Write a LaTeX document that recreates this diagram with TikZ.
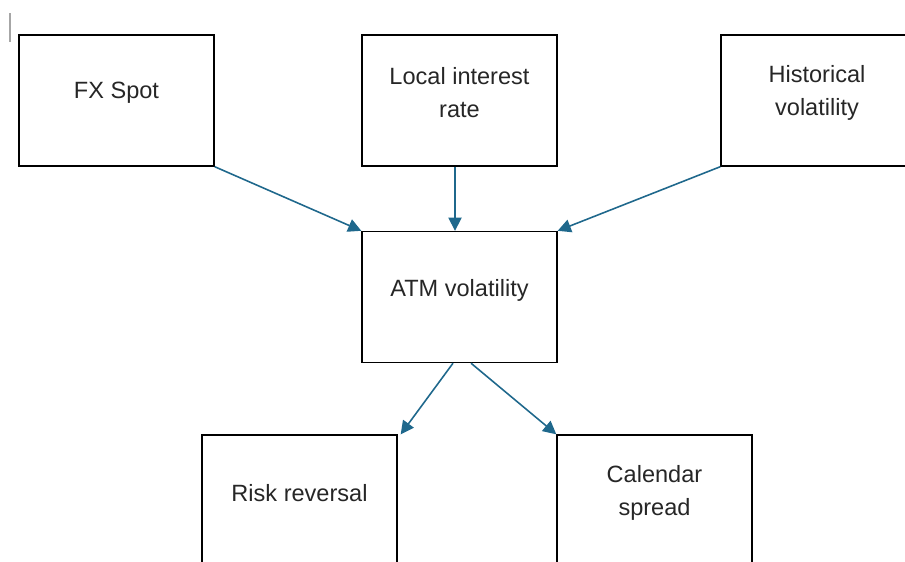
\documentclass[tikz,border=0pt]{standalone}
\usepackage{fontspec}
\setmainfont{Liberation Sans}
\usetikzlibrary{arrows.meta,calc}
\definecolor{arrowblue}{RGB}{31,104,140}
\definecolor{textgray}{RGB}{38,38,38}
\tikzstyle{box}=[draw=black,line width=0.8pt,minimum width=3.9cm,minimum height=2.62cm,inner sep=0pt]
\tikzstyle{boxtext}=[text=textgray,align=center,font=\fontsize{13.4}{18.7}\selectfont,inner sep=0pt]
\tikzstyle{link}=[-{Triangle[length=7.5pt,width=7.5pt]},arrowblue,line width=0.9pt]

\begin{document}
\begin{tikzpicture}[x=0.02cm,y=-0.02cm]
			\useasboundingbox (0,0) rectangle (905,561);
			\clip (0,0) rectangle (905,561);
			%Adding the cursor mark
			\draw[black!35, line width=0.6pt] (10,13) -- (10,42);
			%Adding the boxes
			\foreach \pos/\name in 	{{(116.5,100.5)/fx},	{(459.5,100.5)/rate},	{(818.5,100.5)/hist},
									 {(459.5,297)/atm},
									 {(299.5,500.5)/rr},	{(654.5,500.5)/cal}}
			\node[box] (\name) at \pos {};
			%Adding the texts
			\node[boxtext] (fxtext) at (116.5,93) {FX Spot};
			\node[boxtext] (ratetext) at (459.5,92.5) {Local interest\\rate};
			\node[boxtext] (histtext) at (817,92.5) {Historical\\volatility};
			\node[boxtext] (atmtext) at (459.5,290) {ATM volatility};
			\node[boxtext] (rrtext) at (299.5,493) {Risk reversal};
			\node[boxtext] (caltext) at (654.5,492.5) {Calendar\\spread};
			%Adding the arrows
			\draw[link] (fx.south east) -- (atm.north west);
			\draw[link] ($(rate.south)+(-4.5,0)$) -- ($(atm.north)+(-4.5,0)$);
			\draw[link] (hist.south west) -- (atm.north east);
			\draw[link] ($(atm.south)+(-6.5,0)$) -- ($(rr.north east)+(3,0)$);
			\draw[link] ($(atm.south)+(11.5,0)$) -- (cal.north west);
		\end{tikzpicture}
\end{document}
